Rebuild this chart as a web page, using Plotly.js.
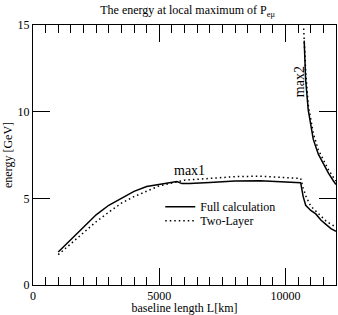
<!DOCTYPE html>
<html><head><meta charset="utf-8">
<script src="https://cdn.plot.ly/plotly-3.0.1.min.js"></script>
<style>html,body{margin:0;padding:0;background:#fff}#chart{width:338px;height:315px}</style>
</head><body><div id="chart"></div>
<script>
// Full calculation, max1 branch
const fullMax1X = [1000,1500,2000,2500,3000,3500,4000,4500,5000,5500,5700,5900,6200,7000,8000,9000,10000,10600,10650,10700,10800,11000,11200,11400,11600,11800,12000];
const fullMax1Y = [1.9,2.6,3.3,4.05,4.6,5.0,5.4,5.68,5.8,5.92,5.97,5.85,5.85,5.92,6.0,6.02,5.97,5.9,5.5,5.1,4.6,4.3,4.1,3.75,3.5,3.25,3.1];
// Two-layer, max1 branch
const twoMax1X = [1000,1500,2000,2500,3000,3500,4000,4500,5000,5500,5700,6000,7000,8000,9000,10000,10600,10700,10800,11000,11200,11400,11600,11800,12000];
const twoMax1Y = [1.75,2.4,3.05,3.65,4.2,4.72,5.1,5.42,5.72,5.88,5.95,6.05,6.15,6.25,6.28,6.22,6.15,5.6,5.15,4.55,4.25,3.95,3.7,3.5,3.35];
// Full calculation, max2 branch
const fullMax2X = [10740,10760,10800,10900,11000,11100,11300,11500,11700,11900,12000];
const fullMax2Y = [14.1,13.0,11.8,10.1,9.2,8.4,7.55,7.0,6.45,6.0,5.8];
// Two-layer, max2 branch
const twoMax2X = [10720,10750,10800,10900,11000,11100,11300,11500,11700,11900,12000];
const twoMax2Y = [14.8,13.8,12.3,10.4,9.5,8.75,7.8,7.2,6.65,6.2,6.0];

const seriesNames = ["Full calculation","Two-Layer"];

const font = {family:"Liberation Serif", color:"#000"};
function f(size){ return {family:font.family, color:font.color, size:size}; }
const solid = {color:"#000", width:1.5, dash:"solid"};
const dotted = {color:"#000", width:1.5, dash:"1.5px,3px"};

const data = [
  {x:fullMax1X, y:fullMax1Y, mode:"lines", line:solid, name:seriesNames[0], legend:"legend"},
  {x:twoMax1X, y:twoMax1Y, mode:"lines", line:dotted, name:seriesNames[1], legend:"legend2"},
  {x:fullMax2X, y:fullMax2Y, mode:"lines", line:solid, name:seriesNames[0], showlegend:false},
  {x:twoMax2X, y:twoMax2Y, mode:"lines", line:dotted, name:seriesNames[1], showlegend:false}
];

const legendCommon = {xanchor:"left", yanchor:"top", bgcolor:"rgba(0,0,0,0)", borderwidth:0, font:f(12), itemwidth:30};

const layout = {
  width:338, height:315,
  margin:{l:33, r:2, t:25, b:30},
  font:font,
  title:{text:"The energy at local maximum of P<sub>eμ</sub>", font:f(12), x:0.555, xanchor:"center", y:0.968, yanchor:"middle"},
  xaxis:{
    range:[0,12000], dtick:5000, tickformat:"d",
    ticks:"inside", ticklen:17, tickcolor:"#000",
    showline:true, linecolor:"#000", mirror:"allticks", showgrid:false, zeroline:false,
    tickfont:f(12),
    minor:{dtick:500, ticks:"inside", ticklen:8, tickcolor:"#000"},
    title:{text:"baseline length L[km]", font:f(12), standoff:1}
  },
  yaxis:{
    range:[0,15], dtick:5,
    ticks:"inside", ticklen:17, tickcolor:"#000",
    showline:true, linecolor:"#000", mirror:"allticks", showgrid:false, zeroline:false,
    tickfont:f(12),
    title:{text:"energy [GeV]", font:f(12), standoff:2}
  },
  showlegend:true,
  legend:Object.assign({x:0.42, y:0.3565}, legendCommon),
  legend2:Object.assign({x:0.42, y:0.3027}, legendCommon),
  annotations:[
    {x:5490, y:6.0, xref:"x", yref:"y", text:"max1", showarrow:false, xanchor:"left", yanchor:"bottom", yshift:1, font:f(14)},
    {x:10535, y:11.7, xref:"x", yref:"y", text:"max2", showarrow:false, textangle:-90, font:f(14)}
  ]
};

Plotly.newPlot("chart", data, layout, {displayModeBar:false, staticPlot:true});
</script></body></html>
